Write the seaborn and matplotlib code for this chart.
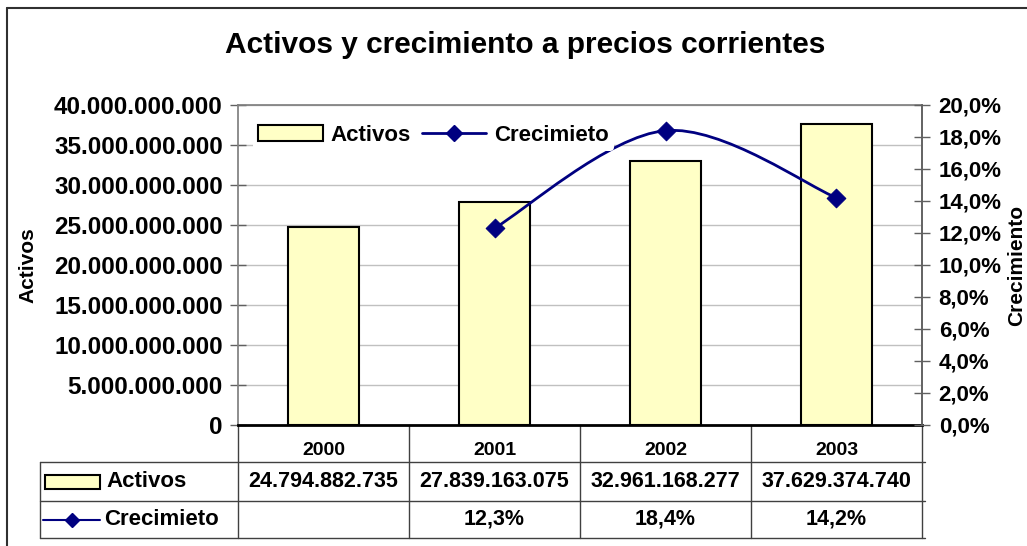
import numpy as np
import pandas as pd
import matplotlib
matplotlib.use('Agg')
import matplotlib.pyplot as plt
import seaborn as sns
from matplotlib.patches import Patch, Rectangle, PathPatch
from matplotlib.lines import Line2D
from matplotlib.path import Path
from matplotlib.ticker import FuncFormatter, MultipleLocator

# data
years = ['2000', '2001', '2002', '2003']
activos = [24794882735, 27839163075, 32961168277, 37629374740]
crec_years = ['2001', '2002', '2003']
crecimiento = [12.3, 18.4, 14.2]

BAR_COLOR = '#FFFFC6'
LINE_COLOR = '#000080'

sns.set_theme(style='white')
plt.rcParams['font.family'] = ['Liberation Sans', 'DejaVu Sans']
plt.rcParams['font.weight'] = 'bold'
for k in ['text.color', 'axes.labelcolor', 'xtick.labelcolor', 'ytick.labelcolor']:
    plt.rcParams[k] = 'black'
NARROW = ['Liberation Sans Narrow', 'Liberation Sans', 'DejaVu Sans']

def fmt_num(v):
    return f"{int(round(v)):,}".replace(',', '.')

def fmt_pct(v):
    return f"{v:.1f}%".replace('.', ',')

fig = plt.figure(figsize=(10.27, 5.46), dpi=100)
ax = fig.add_axes([238/1027, 121/546, 684/1027, 320/546])

df = pd.DataFrame({'year': years, 'activos': activos})
sns.barplot(data=df, x='year', y='activos', order=years, color=BAR_COLOR,
            saturation=1, width=0.41, edgecolor='black', linewidth=1.5, ax=ax)
ax.set_xlim(-0.5, 3.5)
ax.set_ylim(0, 40e9)
ax.yaxis.set_major_locator(MultipleLocator(5e9))
ax.yaxis.set_major_formatter(FuncFormatter(lambda v, p: fmt_num(v)))
ax.grid(axis='y', color='#c0c0c0', lw=1)
ax.set_axisbelow(True)
ax.set_xlabel('')
ax.set_ylabel('Activos', fontsize=15, fontweight='bold')
ax.yaxis.set_label_coords(-0.293, 0.5)
ax.tick_params(axis='y', direction='inout', length=12, width=1, color='#606060',
               labelsize=17.5, pad=5)
ax.tick_params(axis='x', length=0, labelsize=14, pad=12)
for lab in ax.get_xticklabels():
    lab.set_fontweight('bold')
for lab in ax.get_yticklabels():
    lab.set_fontweight('bold')
for s in ['left', 'right', 'top']:
    ax.spines[s].set_color('#808080')
ax.spines['bottom'].set_color('black')
ax.spines['bottom'].set_linewidth(2)

# secondary axis for growth
ax2 = ax.twinx()
ax2.set_ylim(0, 20)
ax2.yaxis.set_major_locator(MultipleLocator(2))
ax2.yaxis.set_major_formatter(FuncFormatter(lambda v, p: fmt_pct(v)))
ax2.tick_params(axis='y', direction='inout', length=12, width=1, color='#606060',
                labelsize=16, pad=6)
for lab in ax2.get_yticklabels():
    lab.set_fontweight('bold')
ax2.spines['right'].set_color('#606060')
for s in ['left', 'top', 'bottom']:
    ax2.spines[s].set_visible(False)
ax2.set_ylabel('Crecimiento', fontsize=15, fontweight='bold')
ax2.yaxis.set_label_coords(1.124, 0.5)
ax2.grid(False)

# smoothed line (excel style bezier through the points)
xs = np.array([years.index(y) for y in crec_years], dtype=float)
ys = np.array(crecimiento, dtype=float)
pts = np.column_stack([xs, ys])
ext = np.vstack([pts[0], pts, pts[-1]])
tang = (ext[2:] - ext[:-2]) / 6.0
verts = [pts[0]]
codes = [Path.MOVETO]
for i in range(len(pts) - 1):
    verts += [pts[i] + tang[i], pts[i+1] - tang[i+1], pts[i+1]]
    codes += [Path.CURVE4] * 3
ax2.add_patch(PathPatch(Path(verts, codes), facecolor='none',
                        edgecolor=LINE_COLOR, lw=2))
sns.scatterplot(x=xs, y=ys, marker='D', s=90, color=LINE_COLOR,
                edgecolor=LINE_COLOR, ax=ax2, zorder=5)

handles = [Patch(facecolor=BAR_COLOR, edgecolor='black', lw=1.5, label='Activos'),
           Line2D([], [], color=LINE_COLOR, lw=2, marker='D', markersize=8,
                  label='Crecimieto')]
leg = ax2.legend(handles=handles, loc='upper left', ncol=2, frameon=True,
                 bbox_to_anchor=(0.005, 0.99), fontsize=16, handlelength=2.9,
                 handleheight=0.75, columnspacing=0.5, handletextpad=0.35,
                 borderpad=0.25, framealpha=1)
leg.get_frame().set_edgecolor('none')
leg.get_frame().set_facecolor('white')
for t in leg.get_texts():
    t.set_fontweight('bold')

# data table below the plot
tr = ax.get_xaxis_transform()
label_left = (40 - 238) / 684
row_lines = [-37/320, -76/320, -113/320]
for yy in row_lines:
    ax.plot([label_left, 1.0045], [yy, yy], transform=ax.transAxes, color='#404040',
            lw=1, clip_on=False)
edges = np.arange(len(years) + 1) - 0.5
for e in edges:
    ax.plot([e, e], [0, row_lines[-1]], transform=tr, color='#404040', lw=1,
            clip_on=False)
ax.plot([label_left, label_left], [row_lines[0], row_lines[-1]],
        transform=ax.transAxes, color='#404040', lw=1, clip_on=False)

row1_y = (row_lines[0] + row_lines[1]) / 2
row2_y = (row_lines[1] + row_lines[2]) / 2
for i, v in enumerate(activos):
    ax.text(i, row1_y, fmt_num(v), transform=tr, ha='center', va='center',
            fontsize=15.5, fontweight='bold', family=NARROW)
for y, v in zip(crec_years, crecimiento):
    ax.text(years.index(y), row2_y, fmt_pct(v), transform=tr, ha='center',
            va='center', fontsize=15.5, fontweight='bold', family=NARROW)

# table row keys
k0 = (45 - 238) / 684
k1 = (100 - 238) / 684
ax.add_patch(Rectangle((k0, row1_y - 7/320), k1 - k0, 14/320, transform=ax.transAxes,
                       facecolor=BAR_COLOR, edgecolor='black', lw=1.5, clip_on=False))
ax.text((106 - 238) / 684, row1_y, 'Activos', transform=ax.transAxes, ha='left',
        va='center', fontsize=16, fontweight='bold', family=NARROW)
ax.plot([(43 - 238) / 684, k1], [row2_y, row2_y], transform=ax.transAxes,
        color=LINE_COLOR, lw=1.5, clip_on=False)
ax.plot([(72 - 238) / 684], [row2_y], transform=ax.transAxes, marker='D',
        color=LINE_COLOR, markersize=7, clip_on=False)
ax.text((104 - 238) / 684, row2_y, 'Crecimieto', transform=ax.transAxes, ha='left',
        va='center', fontsize=16, fontweight='bold', family=NARROW)

# title and outer frame
fig.text(525/1027, 1 - 45/546, 'Activos y crecimiento a precios corrientes',
         ha='center', va='center', fontsize=21.5, fontweight='bold')
fx = 7/1027
fy = 1 - 8/546
fig.add_artist(Line2D([fx, fx], [0, fy], color='#303030', lw=1.5))
fig.add_artist(Line2D([fx, 1], [fy, fy], color='#303030', lw=1.5))

fig.savefig('out.png', dpi=100)
